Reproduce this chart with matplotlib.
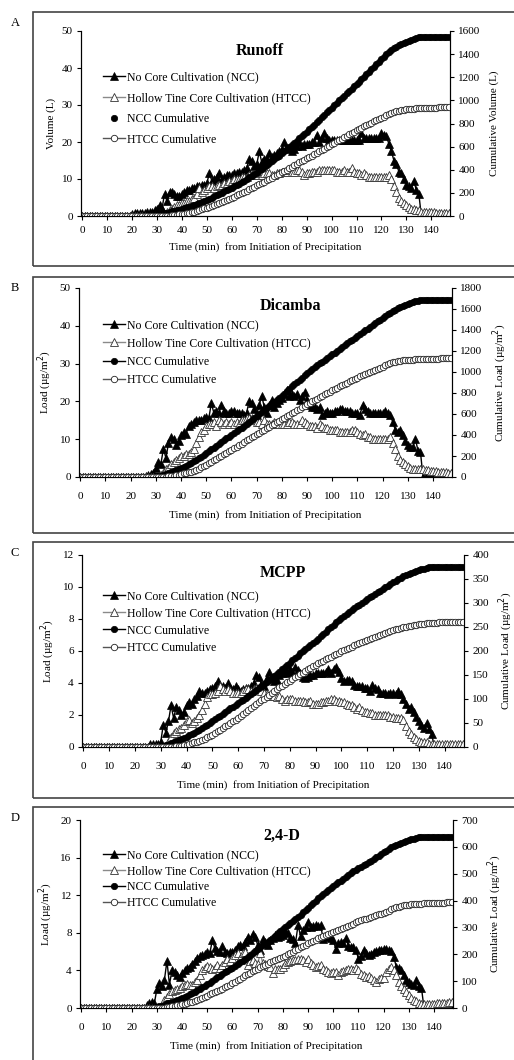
import matplotlib.pyplot as plt
from matplotlib.patches import Rectangle

plt.rcParams['font.family'] = ['Liberation Serif', 'DejaVu Serif']

# sampling times (min), one reading per minute
minutes = list(range(148))

# ---- Runoff (L) ----
runoff_ncc = [
    0, 0, 0, 0, 0, 0, 0, 0, 0, 0,
    0, 0, 0, 0, 0, 0, 0, 0, 0, 0,
    0.5, 0.7, 0.7, 0.8, 0.8, 0.8, 1.0, 1.0, 1.2, 1.5,
    2.0, 3.0, 2.0, 6.0, 4.0, 6.5, 6.5, 6.0, 5.5, 5.5,
    6.0, 6.5, 7.0, 7.0, 7.5, 7.5, 8.0, 8.0, 8.5, 8.5,
    9.0, 11.5, 9.5, 10.0, 10.5, 11.5, 10.0, 10.5, 11.0, 11.0,
    11.0, 11.5, 11.5, 12.0, 12.0, 12.5, 13.0, 15.5, 15.0, 13.5,
    14.0, 17.5, 14.5, 15.5, 15.5, 17.0, 16.0, 16.5, 17.0, 17.5,
    18.0, 20.0, 18.0, 18.5, 17.5, 18.0, 19.0, 20.0, 19.0, 19.5,
    19.5, 19.5, 20.0, 20.0, 22.0, 20.0, 21.0, 22.5, 21.0, 20.5,
    20.5, 20.5, 20.5, 20.5, 20.5, 20.5, 20.5, 20.5, 20.5, 20.5,
    20.5, 20.5, 22.5, 21.0, 21.0, 21.0, 21.0, 21.0, 21.0, 21.0,
    22.5, 22.0, 21.5, 19.5, 17.5, 15.0, 14.0, 12.0, 11.5, 10.0,
    8.5, 8.0, 7.5, 9.5, 7.0, 6.0, 0, 0, 0, 0,
    0, 0, 0, 0, 0, 0, 0, 0]
runoff_htcc = [
    0, 0, 0, 0, 0, 0, 0, 0, 0, 0,
    0, 0, 0, 0, 0, 0, 0, 0, 0, 0,
    0, 0, 0, 0, 0, 0, 0, 0, 0, 0,
    0, 0, 0.2, 0.5, 1.0, 1.5, 2.0, 2.5, 3.0, 3.0,
    3.5, 3.5, 4.0, 4.0, 4.5, 5.0, 6.0, 7.5, 6.5, 7.0,
    7.5, 8.0, 8.0, 7.5, 8.0, 8.5, 8.5, 9.0, 9.0, 9.5,
    9.5, 10.0, 10.0, 10.0, 10.5, 10.5, 10.5, 11.0, 11.0, 11.0,
    11.0, 11.5, 11.0, 11.5, 11.5, 11.5, 11.0, 11.0, 11.5, 11.5,
    12.0, 12.0, 12.0, 12.5, 12.0, 12.0, 12.5, 12.5, 12.0, 11.0,
    11.5, 11.5, 12.0, 12.0, 12.0, 12.5, 12.5, 12.5, 12.5, 12.5,
    12.5, 12.5, 12.0, 12.0, 12.0, 12.5, 12.0, 12.0, 13.0, 12.0,
    11.5, 11.5, 11.0, 11.5, 11.0, 10.5, 10.5, 10.5, 10.5, 10.5,
    10.5, 10.5, 10.5, 11.0, 10.0, 8.0, 6.5, 5.0, 4.0, 3.5,
    3.0, 2.5, 2.0, 1.8, 1.5, 1.5, 1.2, 1.0, 1.0, 1.0,
    1.0, 1.0, 0.9, 0.9, 0.8, 0.8, 0.8, 0.8]
runoff_ncc_cum = [
    0, 0, 0, 0, 0, 0, 0, 0, 0, 0,
    0, 0, 0, 0, 0, 0, 0, 0, 0, 0,
    0, 1, 2, 3, 3, 4, 5, 6, 7, 9,
    11, 14, 16, 22, 26, 32, 39, 45, 50, 56,
    62, 68, 75, 82, 90, 97, 105, 113, 122, 130,
    140, 151, 160, 170, 181, 192, 202, 213, 224, 235,
    246, 257, 269, 281, 293, 305, 318, 334, 349, 362,
    376, 394, 408, 424, 439, 456, 472, 489, 506, 523,
    541, 561, 579, 598, 615, 633, 652, 672, 691, 711,
    730, 750, 770, 790, 812, 832, 853, 875, 896, 917,
    937, 958, 978, 999, 1019, 1040, 1060, 1081, 1101, 1122,
    1142, 1163, 1185, 1206, 1227, 1248, 1269, 1290, 1311, 1332,
    1355, 1377, 1398, 1418, 1435, 1450, 1464, 1476, 1488, 1498,
    1506, 1514, 1522, 1531, 1538, 1544, 1545, 1545, 1545, 1545,
    1545, 1545, 1545, 1545, 1545, 1545, 1545, 1545]
runoff_htcc_cum = [
    0, 0, 0, 0, 0, 0, 0, 0, 0, 0,
    0, 0, 0, 0, 0, 0, 0, 0, 0, 0,
    0, 0, 0, 0, 0, 0, 0, 0, 0, 0,
    0, 0, 0, 1, 2, 3, 5, 8, 11, 14,
    17, 21, 25, 29, 33, 38, 44, 52, 58, 65,
    73, 81, 89, 96, 104, 113, 121, 130, 139, 149,
    158, 168, 178, 188, 199, 209, 220, 231, 242, 253,
    264, 275, 286, 298, 309, 321, 332, 343, 354, 366,
    378, 390, 402, 414, 426, 438, 451, 463, 475, 486,
    498, 509, 521, 533, 545, 558, 570, 583, 595, 608,
    620, 633, 645, 657, 669, 681, 693, 705, 718, 730,
    742, 753, 764, 776, 787, 797, 808, 818, 829, 839,
    850, 860, 871, 882, 892, 900, 906, 911, 915, 919,
    922, 924, 926, 928, 930, 931, 932, 933, 934, 935,
    936, 937, 938, 939, 940, 941, 941, 942]

# ---- Dicamba (ug/m2) ----
dicamba_ncc = [
    0, 0, 0, 0, 0, 0, 0, 0, 0, 0,
    0, 0, 0, 0, 0, 0, 0, 0, 0, 0,
    0, 0, 0, 0, 0, 0, 0.3, 0.5, 0.7, 1.0,
    2.3, 4.0, 3.5, 7.5, 5.0, 9.0, 10.5, 10.0, 8.5, 9.5,
    11.0, 12.0, 11.5, 13.5, 14.0, 14.5, 15.0, 15.0, 15.0, 15.5,
    16.0, 15.5, 19.5, 17.0, 17.5, 17.0, 19.0, 17.5, 17.0, 17.0,
    17.5, 17.5, 17.0, 17.0, 17.0, 16.5, 17.0, 20.0, 19.5, 18.0,
    16.5, 19.0, 21.5, 18.5, 17.0, 19.0, 20.5, 18.5, 19.5, 20.5,
    21.0, 22.0, 23.0, 21.5, 22.0, 21.5, 22.0, 20.5, 21.5, 22.5,
    20.5, 19.0, 18.5, 18.5, 18.0, 18.5, 16.5, 17.0, 17.5, 17.0,
    17.0, 17.5, 17.5, 18.0, 18.0, 17.5, 17.5, 17.5, 17.0, 17.0,
    17.0, 16.5, 19.0, 18.0, 17.5, 17.0, 17.0, 17.0, 17.0, 17.0,
    17.0, 17.5, 17.0, 16.5, 14.5, 12.5, 12.0, 12.5, 11.0, 9.5,
    8.5, 8.0, 8.0, 10.0, 7.0, 6.5, 0, 0, 0, 0,
    0, 0, 0, 0, 0, 0, 0, 0]
dicamba_htcc = [
    0, 0, 0, 0, 0, 0, 0, 0, 0, 0,
    0, 0, 0, 0, 0, 0, 0, 0, 0, 0,
    0, 0, 0, 0, 0, 0, 0, 0, 0, 0,
    0, 0, 0.5, 1.0, 2.0, 2.5, 3.5, 4.0, 4.5, 5.0,
    5.5, 5.5, 6.0, 6.0, 6.5, 7.5, 9.0, 10.5, 12.0, 12.5,
    13.5, 14.0, 14.0, 14.5, 13.5, 15.0, 14.5, 14.0, 14.5, 14.0,
    14.5, 14.0, 14.5, 14.0, 15.0, 15.0, 15.5, 15.5, 15.5, 15.0,
    14.5, 14.5, 14.0, 15.0, 14.0, 14.0, 14.0, 14.5, 14.0, 14.0,
    14.0, 14.0, 14.0, 14.5, 14.5, 14.0, 14.0, 14.0, 15.0, 14.5,
    14.0, 13.5, 13.5, 13.5, 13.0, 14.0, 13.5, 13.0, 13.0, 12.5,
    12.5, 12.5, 12.5, 12.0, 12.0, 12.0, 12.0, 12.0, 12.5, 12.5,
    12.0, 11.5, 11.0, 11.5, 10.5, 10.5, 10.0, 10.0, 10.0, 10.0,
    10.0, 10.0, 10.0, 10.5, 9.0, 7.5, 5.5, 4.5, 4.0, 3.5,
    3.0, 2.5, 2.0, 2.0, 2.0, 2.0, 2.0, 1.8, 1.8, 1.6,
    1.5, 1.5, 1.3, 1.3, 1.2, 1.2, 1.0, 1.0]
dicamba_ncc_cum = [
    0, 0, 0, 0, 0, 0, 0, 0, 0, 0,
    0, 0, 0, 0, 0, 0, 0, 0, 0, 0,
    0, 0, 0, 0, 0, 0, 1, 2, 3, 4,
    6, 10, 14, 21, 26, 35, 45, 55, 64, 74,
    85, 97, 108, 122, 136, 150, 165, 180, 195, 211,
    227, 243, 262, 279, 297, 314, 333, 350, 367, 384,
    402, 419, 436, 453, 470, 487, 504, 524, 544, 562,
    578, 597, 619, 637, 654, 673, 694, 712, 732, 752,
    773, 795, 818, 840, 862, 883, 905, 926, 947, 970,
    990, 1009, 1028, 1046, 1064, 1083, 1099, 1116, 1134, 1151,
    1168, 1185, 1203, 1221, 1239, 1256, 1274, 1291, 1308, 1325,
    1342, 1359, 1378, 1396, 1413, 1430, 1447, 1464, 1481, 1498,
    1515, 1533, 1550, 1566, 1581, 1593, 1605, 1618, 1629, 1638,
    1647, 1655, 1663, 1673, 1680, 1687, 1690, 1690, 1690, 1690,
    1690, 1690, 1690, 1690, 1690, 1690, 1690, 1690]
dicamba_htcc_cum = [
    0, 0, 0, 0, 0, 0, 0, 0, 0, 0,
    0, 0, 0, 0, 0, 0, 0, 0, 0, 0,
    0, 0, 0, 0, 0, 0, 0, 0, 0, 0,
    0, 0, 1, 2, 4, 6, 10, 14, 18, 23,
    28, 34, 40, 46, 52, 60, 69, 80, 92, 104,
    118, 132, 146, 160, 174, 189, 203, 217, 232, 246,
    260, 274, 289, 303, 318, 333, 348, 364, 379, 394,
    409, 423, 437, 452, 466, 480, 494, 508, 522, 536,
    550, 564, 578, 593, 607, 621, 635, 649, 664, 679,
    693, 706, 720, 733, 746, 760, 774, 787, 800, 812,
    825, 837, 850, 862, 874, 886, 898, 910, 922, 935,
    947, 958, 969, 981, 991, 1002, 1012, 1022, 1032, 1042,
    1052, 1062, 1072, 1082, 1091, 1098, 1104, 1109, 1112, 1115,
    1117, 1118, 1119, 1120, 1121, 1122, 1123, 1124, 1125, 1126,
    1127, 1128, 1128, 1129, 1129, 1130, 1130, 1131]

# ---- MCPP (ug/m2) ----
mcpp_ncc = [
    0, 0, 0, 0, 0, 0, 0, 0, 0, 0,
    0, 0, 0, 0, 0, 0, 0, 0, 0, 0,
    0, 0, 0, 0, 0, 0, 0.2, 0.2, 0.2, 0.2,
    0.3, 1.4, 0.9, 1.6, 2.6, 1.8, 2.5, 2.3, 2.0, 2.2,
    2.6, 2.8, 2.7, 3.0, 3.2, 3.5, 3.4, 3.4, 3.5, 3.6,
    3.7, 3.8, 4.1, 3.7, 3.8, 3.7, 4.0, 3.7, 3.6, 3.8,
    3.6, 3.5, 3.6, 3.7, 3.7, 3.8, 4.0, 4.5, 4.4, 3.9,
    3.8, 4.3, 4.7, 4.3, 4.1, 4.2, 4.5, 4.6, 4.8, 4.6,
    4.9, 4.7, 5.0, 4.8, 4.6, 4.4, 4.3, 4.4, 4.5, 4.5,
    4.6, 4.6, 4.6, 4.6, 4.7, 4.9, 4.6, 4.9, 5.0, 4.7,
    4.3, 4.1, 4.2, 4.2, 4.1, 3.9, 3.8, 3.8, 3.8, 3.7,
    3.7, 3.5, 3.9, 3.7, 3.6, 3.4, 3.4, 3.4, 3.3, 3.4,
    3.4, 3.3, 3.5, 3.3, 3.0, 2.7, 2.4, 2.5, 2.2, 1.9,
    1.6, 1.4, 1.2, 1.5, 1.1, 0.8, 0, 0, 0, 0,
    0, 0, 0, 0, 0, 0, 0, 0]
mcpp_htcc = [
    0, 0, 0, 0, 0, 0, 0, 0, 0, 0,
    0, 0, 0, 0, 0, 0, 0, 0, 0, 0,
    0, 0, 0, 0, 0, 0, 0, 0, 0, 0,
    0, 0, 0, 0.3, 0.6, 0.9, 1.0, 1.1, 1.2, 1.4,
    1.6, 1.7, 1.5, 1.6, 1.8, 2.0, 2.3, 2.7, 3.1, 3.3,
    3.3, 3.4, 3.5, 3.8, 3.6, 3.5, 3.6, 3.5, 3.4, 3.4,
    3.4, 3.4, 3.5, 3.6, 3.6, 3.5, 3.6, 3.7, 3.6, 3.5,
    3.4, 3.3, 3.2, 3.3, 3.2, 3.1, 3.2, 3.0, 2.9, 3.0,
    3.0, 3.0, 2.9, 2.9, 2.9, 2.9, 2.8, 2.8, 2.9, 2.7,
    2.7, 2.7, 2.8, 2.8, 2.9, 2.9, 3.0, 3.0, 2.9, 2.9,
    2.8, 2.8, 2.7, 2.6, 2.6, 2.5, 2.4, 2.5, 2.3, 2.2,
    2.2, 2.1, 2.1, 2.0, 2.0, 2.0, 2.0, 2.0, 2.0, 1.9,
    1.9, 1.8, 1.8, 1.8, 1.7, 1.3, 1.0, 0.8, 0.6, 0.5,
    0.4, 0.3, 0.3, 0.3, 0.2, 0.2, 0.2, 0.2, 0.2, 0.2,
    0.2, 0.2, 0.2, 0.2, 0.2, 0.2, 0.2, 0.2]
mcpp_ncc_cum = [
    0, 0, 0, 0, 0, 0, 0, 0, 0, 0,
    0, 0, 0, 0, 0, 0, 0, 0, 0, 0,
    0, 0, 0, 0, 0, 0, 0.2, 0.4, 0.6, 0.8,
    1.1, 2.5, 3.4, 5.0, 7.6, 9.4, 11.9, 14.2, 16.2, 18.4,
    21, 24, 26.5, 29.5, 32.5, 36, 39.5, 43, 46.5, 50,
    54, 57.5, 61.5, 65.5, 69, 73, 77, 80.5, 84, 88,
    91.5, 95, 98.5, 102, 106, 110, 114, 118.5, 123, 127,
    131, 135, 140, 144, 148, 152, 157, 161.5, 166, 171,
    176, 180.5, 185.5, 190, 195, 199, 203.5, 208, 212, 216.5,
    221, 226, 230.5, 235, 240, 245, 249.5, 254.5, 259.5, 264,
    268.5, 272.5, 276.5, 281, 285, 289, 293, 296.5, 300.5, 304,
    308, 311.5, 315.5, 319, 322.5, 326, 329.5, 333, 336, 339.5,
    343, 346, 349.5, 353, 356, 358.5, 361, 363.5, 365.5, 367.5,
    369, 370.5, 371.5, 373, 374, 375, 375, 375, 375, 375,
    375, 375, 375, 375, 375, 375, 375, 375]
mcpp_htcc_cum = [
    0, 0, 0, 0, 0, 0, 0, 0, 0, 0,
    0, 0, 0, 0, 0, 0, 0, 0, 0, 0,
    0, 0, 0, 0, 0, 0, 0, 0, 0, 0,
    0, 0, 0, 0.2, 0.5, 1, 1.5, 2.2, 3, 4,
    5, 6.5, 8, 9.5, 11, 13, 15, 17.5, 20, 23,
    26, 29, 32.5, 36, 39.5, 43, 46.5, 50, 53.5, 57,
    61, 65, 69, 73, 77, 81, 85, 89, 93, 97,
    101, 105, 109, 113, 117, 120.5, 124, 127.5, 131, 134.5,
    138, 141.5, 145, 148.5, 152, 155, 158.5, 162, 165, 168,
    171, 174, 177, 180, 183, 185.5, 188.5, 191, 194, 196.5,
    199, 201.5, 204, 206.5, 209, 211.5, 214, 216, 218.5, 220.5,
    223, 225, 227, 229, 231, 233, 235, 237, 239, 241,
    243, 245, 246.5, 248, 249.5, 251, 252, 253, 254, 255,
    256, 256.5, 257, 257.5, 258, 258.5, 259, 259, 259.5, 259.5,
    260, 260, 260, 260.5, 260.5, 260.5, 261, 261]

# ---- 2,4-D (ug/m2) ----
d24_ncc = [
    0, 0, 0, 0, 0, 0, 0, 0, 0, 0,
    0, 0, 0, 0, 0, 0, 0, 0, 0, 0,
    0, 0, 0, 0, 0, 0, 0.3, 0.5, 0.6, 0.5,
    2.0, 2.7, 2.3, 3.0, 5.0, 2.5, 4.0, 3.8, 3.5, 3.3,
    3.7, 4.0, 4.3, 4.4, 4.7, 5.0, 5.3, 5.5, 5.6, 5.7,
    6.0, 5.8, 7.2, 6.4, 6.1, 6.0, 6.6, 6.0, 5.8, 6.0,
    6.0, 6.2, 6.6, 6.7, 6.6, 7.0, 7.6, 7.2, 7.9, 7.6,
    6.7, 6.2, 7.3, 7.0, 6.7, 7.2, 7.5, 7.8, 7.6, 7.7,
    7.8, 8.2, 8.0, 7.5, 7.3, 6.9, 8.8, 7.7, 8.3, 8.6,
    9.2, 8.6, 8.7, 8.8, 8.7, 8.8, 7.3, 7.6, 7.7, 7.4,
    7.2, 6.3, 6.9, 7.0, 6.9, 7.4, 6.6, 6.5, 6.5, 6.2,
    5.2, 5.5, 6.2, 5.8, 5.6, 5.7, 6.0, 6.1, 6.2, 6.2,
    6.3, 6.3, 6.2, 6.1, 5.4, 4.4, 4.3, 4.0, 3.5, 3.0,
    2.8, 2.6, 2.4, 3.0, 2.3, 2.1, 0, 0, 0, 0,
    0, 0, 0, 0, 0, 0, 0, 0]
d24_htcc = [
    0, 0, 0, 0, 0, 0, 0, 0, 0, 0,
    0, 0, 0, 0, 0, 0, 0, 0, 0, 0,
    0, 0, 0, 0, 0, 0, 0, 0, 0, 0,
    0, 0, 0.3, 0.8, 1.2, 1.5, 1.8, 1.9, 2.0, 2.1,
    2.3, 2.5, 2.6, 2.4, 2.5, 2.8, 3.0, 3.5, 4.0, 4.3,
    4.5, 4.4, 4.2, 4.3, 4.6, 4.3, 4.6, 4.9, 5.2, 5.0,
    5.3, 5.6, 5.8, 5.3, 5.8, 6.0, 4.6, 5.0, 5.1, 4.8,
    4.7, 5.8, 4.8, 4.7, 4.5, 4.4, 3.7, 4.2, 4.1, 4.2,
    4.4, 4.7, 4.9, 5.0, 5.1, 5.1, 5.2, 5.2, 5.1, 4.9,
    5.2, 4.8, 4.6, 4.4, 4.5, 4.6, 4.2, 4.0, 3.8, 3.7,
    3.8, 3.8, 3.5, 3.8, 3.9, 4.0, 4.1, 4.2, 4.0, 4.3,
    4.0, 3.6, 3.5, 3.3, 3.4, 3.2, 3.0, 2.8, 3.1, 3.2,
    3.2, 3.8, 4.2, 4.4, 4.0, 3.5, 2.8, 2.3, 2.0, 1.7,
    1.4, 1.1, 0.9, 0.7, 0.5, 0.4, 0.4, 0.4, 0.4, 0.4,
    0.4, 0.5, 0.5, 0.5, 0.5, 0.5, 0.6, 0.6]
d24_ncc_cum = [
    0, 0, 0, 0, 0, 0, 0, 0, 0, 0,
    0, 0, 0, 0, 0, 0, 0, 0, 0, 0,
    0, 0, 0, 0, 0, 0, 0.3, 0.8, 1.4, 1.9,
    3.9, 6.6, 8.9, 11.9, 16.9, 19.4, 23.4, 27.2, 30.7, 34.0,
    37.7, 41.7, 46.0, 50.4, 55.1, 60.1, 65.4, 70.9, 76.5, 82.2,
    88.2, 94.0, 101.2, 107.6, 113.7, 119.7, 126.3, 132.3, 138.1, 144.1,
    150.1, 156.3, 162.9, 169.6, 176.2, 183.2, 190.8, 198.0, 205.9, 213.5,
    220.2, 226.4, 233.7, 240.7, 247.4, 254.6, 262.1, 269.9, 277.5, 285.2,
    293.0, 301.2, 309.2, 316.7, 324.0, 330.9, 339.7, 347.4, 355.7, 364.3,
    373.5, 382.1, 390.8, 399.6, 408.3, 417.1, 424.4, 432.0, 439.7, 447.1,
    454.3, 460.6, 467.5, 474.5, 481.4, 488.8, 495.4, 501.9, 508.4, 514.6,
    519.8, 525.3, 531.5, 537.3, 542.9, 548.6, 554.6, 560.7, 566.9, 573.1,
    579.4, 585.7, 591.9, 598.0, 603.4, 607.8, 612.1, 616.1, 619.6, 622.6,
    625.4, 628.0, 630.4, 633.4, 635.7, 637.8, 638, 638, 638, 638,
    638, 638, 638, 638, 638, 638, 638, 638]
d24_htcc_cum = [
    0, 0, 0, 0, 0, 0, 0, 0, 0, 0,
    0, 0, 0, 0, 0, 0, 0, 0, 0, 0,
    0, 0, 0, 0, 0, 0, 0, 0, 0, 0,
    0, 0, 0.3, 1.1, 2.3, 3.8, 5.6, 7.5, 9.5, 11.6,
    13.9, 16.4, 19.0, 21.4, 23.9, 26.7, 29.7, 33.2, 37.2, 41.5,
    46.0, 50.4, 54.6, 58.9, 63.5, 67.8, 72.4, 77.3, 82.5, 87.5,
    92.8, 98.4, 104.2, 109.5, 115.3, 121.3, 125.9, 130.9, 136.0, 140.8,
    145.5, 151.3, 156.1, 160.8, 165.3, 169.7, 173.4, 177.6, 181.7, 185.9,
    190.3, 195.0, 199.9, 204.9, 210.0, 215.1, 220.3, 225.5, 230.6, 235.5,
    240.7, 245.5, 250.1, 254.5, 259.0, 263.6, 267.8, 271.8, 275.6, 279.3,
    283.1, 286.9, 290.4, 294.2, 298.1, 302.1, 306.2, 310.4, 314.4, 318.7,
    322.7, 326.3, 329.8, 333.1, 336.5, 339.7, 342.7, 345.5, 348.6, 351.8,
    355.0, 358.8, 363.0, 367.4, 371.4, 374.9, 377.7, 380.0, 382.0, 383.7,
    385.1, 386.2, 387.1, 387.8, 388.3, 388.7, 389.1, 389.5, 389.9, 390.3,
    390.7, 391.2, 391.7, 392.2, 392.7, 393.2, 393.8, 394.4]

W, H = 514, 1060
fig = plt.figure(figsize=(W / 100, H / 100), dpi=100)


def fx(px):
    return px / W


def fy(py):
    return 1 - py / H


def panel(box, axbox, letter, title, title_xy, ylabel, ylabel2,
          ylim, yticks, ylim2, yticks2, ncc, htcc, ncc_cum, htcc_cum,
          leg_y, leg_space, tick_pad, xlab_pad, cum_line=True):
    # frame round the panel
    bt, bb = box
    fig.patches.append(Rectangle((fx(33), fy(bb)), fx(600) - fx(33), fy(bt) - fy(bb),
                                 transform=fig.transFigure, fill=False,
                                 edgecolor='#444444', lw=1.2))
    fig.text(fx(15), fy(bt + 11), letter, fontsize=9, ha='center', va='center')

    l, r, t, b = axbox
    ax = fig.add_axes([fx(l), fy(b), fx(r) - fx(l), (b - t) / H])
    ax2 = ax.twinx()

    l1, = ax.plot(minutes, ncc, color='black', lw=1.0, marker='^', ms=5.2,
                  mfc='black', mec='black', mew=0.5)
    l2, = ax.plot(minutes, htcc, color='#8a8a8a', lw=1.0, marker='^', ms=5.2,
                  mfc='white', mec='#333333', mew=0.6)
    l3, = ax2.plot(minutes, ncc_cum, color='black', lw=1.0 if cum_line else 0,
                   marker='o', ms=4.6, mfc='black', mec='black', mew=0.5)
    l4, = ax2.plot(minutes, htcc_cum, color='#555555', lw=1.0, marker='o', ms=4.6,
                   mfc='white', mec='#222222', mew=0.6)

    ax.set_xlim(-0.5, 147.5)
    ax.set_ylim(*ylim)
    ax.set_yticks(yticks)
    ax2.set_ylim(*ylim2)
    ax2.set_yticks(yticks2)
    ax.set_xticks(range(0, 141, 10))

    for a in (ax, ax2):
        a.tick_params(direction='out', length=3, width=0.8, labelsize=8, pad=3)
        for s in a.spines.values():
            s.set_linewidth(0.8)
    ax.tick_params(axis='x', pad=tick_pad)
    ax.spines['top'].set_visible(False)
    ax2.spines['top'].set_visible(False)

    ax.set_ylabel(ylabel, fontsize=8, labelpad=4)
    ax2.set_ylabel(ylabel2, fontsize=8, labelpad=6)
    ax.set_xlabel('Time (min)  from Initiation of Precipitation', fontsize=8,
                  labelpad=xlab_pad)

    tx, ty = title_xy
    fig.text(fx(tx), fy(ty), title, fontsize=11.5, fontweight='bold',
             ha='center', va='center')

    ax2.legend([l1, l2, l3, l4],
               ['No Core Cultivation (NCC)', 'Hollow Tine Core Cultivation (HTCC)',
                'NCC Cumulative', 'HTCC Cumulative'],
               loc='upper left', bbox_to_anchor=(fx(103), fy(leg_y - 7)),
               bbox_transform=fig.transFigure, frameon=False, fontsize=8.5,
               handlelength=1.9, handletextpad=0.15, borderpad=0, borderaxespad=0,
               labelspacing=leg_space)


panel((12, 266), (81, 450, 31, 216), 'A', 'Runoff', (260, 51),
      'Volume (L)', 'Cumulative Volume (L)',
      (0, 50), range(0, 51, 10), (0, 1600), range(0, 1601, 200),
      runoff_ncc, runoff_htcc, runoff_ncc_cum, runoff_htcc_cum,
      78, 0.75, 4, 5.5, cum_line=False)

panel((277, 533), (79, 452, 288, 477), 'B', 'Dicamba', (290, 306),
      'Load (\u00b5g/m$^2$)', 'Cumulative Load (\u00b5g/m$^2$)',
      (0, 50), range(0, 51, 10), (0, 1800), range(0, 1801, 200),
      dicamba_ncc, dicamba_htcc, dicamba_ncc_cum, dicamba_htcc_cum,
      326, 0.55, 8, 6.5)

panel((542, 798), (82, 464, 555, 747), 'C', 'MCPP', (283, 573),
      'Load (\u00b5g/m$^2$)', 'Cumulative Load (\u00b5g/m$^2$)',
      (0, 12), range(0, 13, 2), (0, 400), range(0, 401, 50),
      mcpp_ncc, mcpp_htcc, mcpp_ncc_cum, mcpp_htcc_cum,
      597, 0.45, 8, 6.5)

panel((807, 1100), (80, 453, 820, 1008), 'D', '2,4-D', (282, 836),
      'Load (\u00b5g/m$^2$)', 'Cumulative Load (\u00b5g/m$^2$)',
      (0, 20), range(0, 21, 4), (0, 700), range(0, 701, 100),
      d24_ncc, d24_htcc, d24_ncc_cum, d24_htcc_cum,
      856, 0.35, 8, 6.5)

fig.savefig('out.png', dpi=100)
